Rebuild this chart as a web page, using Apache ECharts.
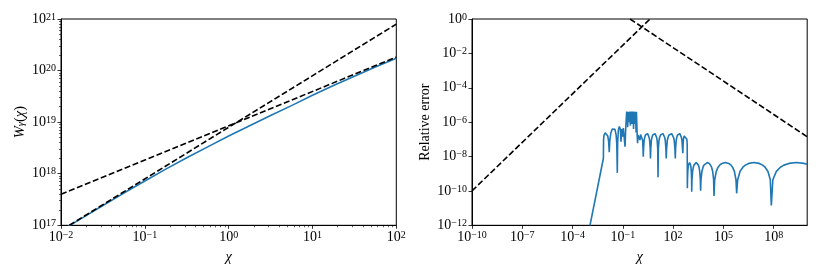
<!DOCTYPE html>
<html><head><meta charset="utf-8">
<script src="https://cdn.jsdelivr.net/npm/echarts@6/dist/echarts.min.js"></script>
<style>html,body{margin:0;padding:0;background:#fff}#c{width:822px;height:274px}</style>
</head><body><div id="c"></div>
<script>
// ---------- data (all values given as base-10 exponents) ----------
// Left panel: W_gamma(chi)
const leftChiExp = [-2, -1.75, -1.5, -1.25, -1, -0.75, -0.5, -0.25, 0, 0.25, 0.5, 0.75, 1, 1.25, 1.5, 1.75, 2];
const leftWExp   = [16.895, 17.14, 17.385, 17.625, 17.86, 18.09, 18.31, 18.52, 18.73, 18.93, 19.13, 19.32, 19.52, 19.71, 19.89, 20.07, 20.24];
// Left panel asymptotes (dashed)
const smallAsymChiExp = [-1.9, 2];
const smallAsymWExp   = [17.0, 20.9];
const largeAsymChiExp = [-2, 2];
const largeAsymWExp   = [17.6, 20.26];

// Right panel: relative error
const rightChiExp = [-2.96,-2.16,-2.15,-2.12,-2.05,-1.97,-1.90,-1.85,-1.81,-1.78,-1.72,-1.63,-1.55,-1.47,-1.40,-1.36,-1.33,
  -1.31,-1.27,-1.21,-1.15,-1.11,-1.07,-1.04,-1.01,-0.97,-0.92,-0.87,-0.83,-0.80,-0.78,
  -0.77,-0.75,-0.73,-0.71,-0.69,-0.67,-0.65,-0.63,-0.61,-0.59,-0.57,-0.55,-0.53,-0.51,-0.49,-0.46,-0.44,-0.41,-0.39,-0.36,-0.34,-0.31,-0.29,-0.26,-0.24,-0.21,-0.19,
  -0.17,-0.15,-0.12,-0.09,-0.05,-0.02,0.02,0.06,0.12,0.18,0.205,0.22,
  0.237,0.272,0.306,0.349,0.392,0.435,0.478,0.521,0.564,0.598,0.633,0.65,
  0.668,0.704,0.74,0.785,0.83,0.875,0.92,0.965,1.01,1.046,1.082,1.10,
  1.12,1.159,1.198,1.247,1.296,1.345,1.394,1.443,1.492,1.531,1.57,1.59,
  1.612,1.655,1.698,1.752,1.806,1.86,1.914,1.968,2.022,2.065,2.108,2.13,
  2.148,2.184,2.22,2.265,2.31,2.355,2.40,2.445,2.49,2.526,2.562,2.58,
  2.595,2.62,2.66,2.71,2.77,2.82,2.84,2.85,
  2.858,2.876,2.897,2.915,2.941,2.98,3.019,3.045,3.063,3.084,3.102,3.11,
  3.126,3.163,3.205,3.243,3.296,3.375,3.455,3.508,3.545,3.587,3.624,3.64,
  3.664,3.72,3.784,3.84,3.92,4.04,4.16,4.24,4.296,4.36,4.416,4.44,
  4.48,4.575,4.683,4.778,4.913,5.115,5.318,5.453,5.547,5.655,5.75,5.79,
  5.852,5.997,6.163,6.308,6.515,6.825,7.136,7.343,7.487,7.653,7.798,7.86,
  7.95,8.16,8.40,8.61,8.91,9.36,9.81,10.0];
const rightErrExp = [-12.0,-8.10,-7.00,-6.75,-6.62,-6.65,-6.80,-7.10,-7.75,-7.10,-6.65,-6.40,-6.32,-6.42,-6.75,-7.30,-8.95,
  -7.20,-6.50,-6.25,-6.40,-7.14,-6.40,-6.35,-6.85,-6.35,-6.30,-7.43,-6.40,-6.30,-6.40,
  -5.39,-5.60,-5.39,-6.30,-5.39,-5.80,-5.39,-6.00,-5.39,-5.50,-5.39,-6.20,-5.39,-5.70,-5.39,-6.10,-5.39,-5.60,-5.39,-6.40,-5.39,-5.80,-5.39,-6.10,-5.39,-6.60,-5.39,
  -6.00,-6.60,-7.23,-6.75,-6.70,-6.80,-7.04,-6.72,-6.68,-7.05,-7.55,-8.01,
  -7.55,-7.05,-6.88,-6.75,-6.67,-6.65,-6.67,-6.75,-6.88,-7.05,-7.55,-8.11,
  -7.55,-7.05,-6.88,-6.75,-6.67,-6.65,-6.67,-6.75,-6.88,-7.05,-7.55,-9.21,
  -7.55,-7.05,-6.88,-6.75,-6.67,-6.65,-6.67,-6.75,-6.88,-7.05,-7.55,-8.11,
  -7.55,-7.05,-6.88,-6.75,-6.67,-6.65,-6.67,-6.75,-6.88,-7.05,-7.55,-8.11,
  -7.55,-7.05,-6.88,-6.75,-6.67,-6.65,-6.67,-6.75,-6.88,-7.05,-7.55,-7.81,
  -7.30,-6.95,-6.80,-6.75,-6.80,-7.00,-7.30,-9.85,
  -9.35,-8.86,-8.62,-8.50,-8.40,-8.35,-8.40,-8.50,-8.62,-8.86,-9.35,-10.05,
  -9.35,-8.86,-8.62,-8.50,-8.40,-8.35,-8.40,-8.50,-8.62,-8.86,-9.35,-9.99,
  -9.35,-8.86,-8.62,-8.50,-8.40,-8.35,-8.40,-8.50,-8.62,-8.86,-9.35,-10.30,
  -9.35,-8.86,-8.62,-8.50,-8.40,-8.35,-8.40,-8.50,-8.62,-8.86,-9.35,-10.14,
  -9.35,-8.86,-8.62,-8.50,-8.40,-8.35,-8.40,-8.50,-8.62,-8.86,-9.35,-10.84,
  -9.35,-8.86,-8.62,-8.50,-8.40,-8.35,-8.40,-8.44];
// Right panel asymptote errors (dashed)
const errSmallChiExp = [-10, 0.62];
const errSmallExp    = [-10, 0];
const errLargeChiExp = [-0.57, 10];
const errLargeExp    = [0, -6.85];

// Tick exponents
const leftXTicks  = [-2, -1, 0, 1, 2];
const leftYTicks  = [17, 18, 19, 20, 21];
const rightXTicks = [-10, -7, -4, -1, 2, 5, 8];
const rightYTicks = [-12, -10, -8, -6, -4, -2, 0];

// ---------- helpers ----------
const FONT = '"Liberation Serif", "DejaVu Serif", serif';
const zip = (a, b) => a.map((v, i) => [v, b[i]]);
function minorTicks(lo, hi) {
  const out = [];
  for (let n = lo; n < hi; n++) for (let k = 2; k <= 9; k++) out.push(n + Math.log10(k));
  return out;
}
const richLabel = {
  b: {fontFamily: FONT, fontSize: 14, lineHeight: 14, color: '#000'},
  s: {fontFamily: FONT, fontSize: 10, lineHeight: 7, verticalAlign: 'top', color: '#000'}
};
function pow10Label(v) {
  const e = Math.round(v);
  const s = e < 0 ? '\u2212' + (-e) : String(e);
  return '{b|10}{s|' + s + '}';
}
function mainAxis(gridIndex, min, max, ticks, position, extra) {
  return Object.assign({
    type: 'value', gridIndex, min, max, position,
    axisLine: {show: true, onZero: false, lineStyle: {color: '#000', width: 1}},
    axisTick: {show: true, inside: false, length: 3.5, lineStyle: {color: '#000', width: 0.8}, customValues: ticks},
    axisLabel: {show: true, customValues: ticks, formatter: pow10Label, rich: richLabel, margin: 5},
    splitLine: {show: false}
  }, extra || {});
}
function minorAxis(gridIndex, min, max, ticks, position) {
  return {
    type: 'value', gridIndex, min, max, position,
    axisLine: {show: false, onZero: false},
    axisTick: {show: true, inside: false, length: 2, lineStyle: {color: '#000', width: 0.6}, customValues: ticks},
    axisLabel: {show: false},
    splitLine: {show: false}
  };
}
const blue = '#1f77b4';
const dash = [6, 2.6];
function lineSeries(xi, yi, data, color, type) {
  return {
    type: 'line', xAxisIndex: xi, yAxisIndex: yi, data, symbol: 'none', showSymbol: false,
    lineStyle: {color, width: 1.6, type: type || 'solid'}, clip: true, silent: true, animation: false
  };
}

const chart = echarts.init(document.getElementById('c'), null, {renderer: 'canvas'});
chart.setOption({
  animation: false,
  backgroundColor: '#fff',
  grid: [
    {left: 61, top: 19, width: 335.3, height: 206.3, show: true, borderColor: '#000', borderWidth: 1, containLabel: false},
    {left: 472, top: 19, width: 335.2, height: 206.3, show: true, borderColor: '#000', borderWidth: 1, containLabel: false}
  ],
  xAxis: [
    mainAxis(0, -2, 2, leftXTicks, 'bottom', {
      name: 'χ', nameLocation: 'middle', nameGap: 21,
      nameTextStyle: {fontFamily: FONT, fontSize: 14.5, fontStyle: 'italic', color: '#000'}
    }),
    minorAxis(0, -2, 2, minorTicks(-2, 2), 'bottom'),
    mainAxis(1, -10, 10, rightXTicks, 'bottom', {
      name: 'χ', nameLocation: 'middle', nameGap: 21,
      nameTextStyle: {fontFamily: FONT, fontSize: 14.5, fontStyle: 'italic', color: '#000'}
    })
  ],
  yAxis: [
    mainAxis(0, 17, 21, leftYTicks, 'left', {
      name: '{i|W}{g|γ}{n|(}{i|χ}{n|)}', nameLocation: 'middle', nameGap: 34,
      nameTextStyle: {
        color: '#000',
        rich: {
          i: {fontFamily: FONT, fontSize: 14.5, fontStyle: 'italic', lineHeight: 14, color: '#000'},
          n: {fontFamily: FONT, fontSize: 14.5, lineHeight: 14, color: '#000'},
          g: {fontFamily: FONT, fontSize: 10.5, fontStyle: 'italic', lineHeight: 6, verticalAlign: 'bottom', color: '#000'}
        }
      }
    }),
    minorAxis(0, 17, 21, minorTicks(17, 21), 'left'),
    mainAxis(1, -12, 0, rightYTicks, 'left', {
      name: 'Relative error', nameLocation: 'middle', nameGap: 40,
      nameTextStyle: {fontFamily: FONT, fontSize: 14, color: '#000'}
    })
  ],
  series: [
    lineSeries(0, 0, zip(leftChiExp, leftWExp), blue),
    lineSeries(0, 0, zip(smallAsymChiExp, smallAsymWExp), '#000', dash),
    lineSeries(0, 0, zip(largeAsymChiExp, largeAsymWExp), '#000', dash),
    lineSeries(2, 2, zip(rightChiExp, rightErrExp), blue),
    lineSeries(2, 2, zip(errSmallChiExp, errSmallExp), '#000', dash),
    lineSeries(2, 2, zip(errLargeChiExp, errLargeExp), '#000', dash)
  ]
});
</script>
</body></html>
